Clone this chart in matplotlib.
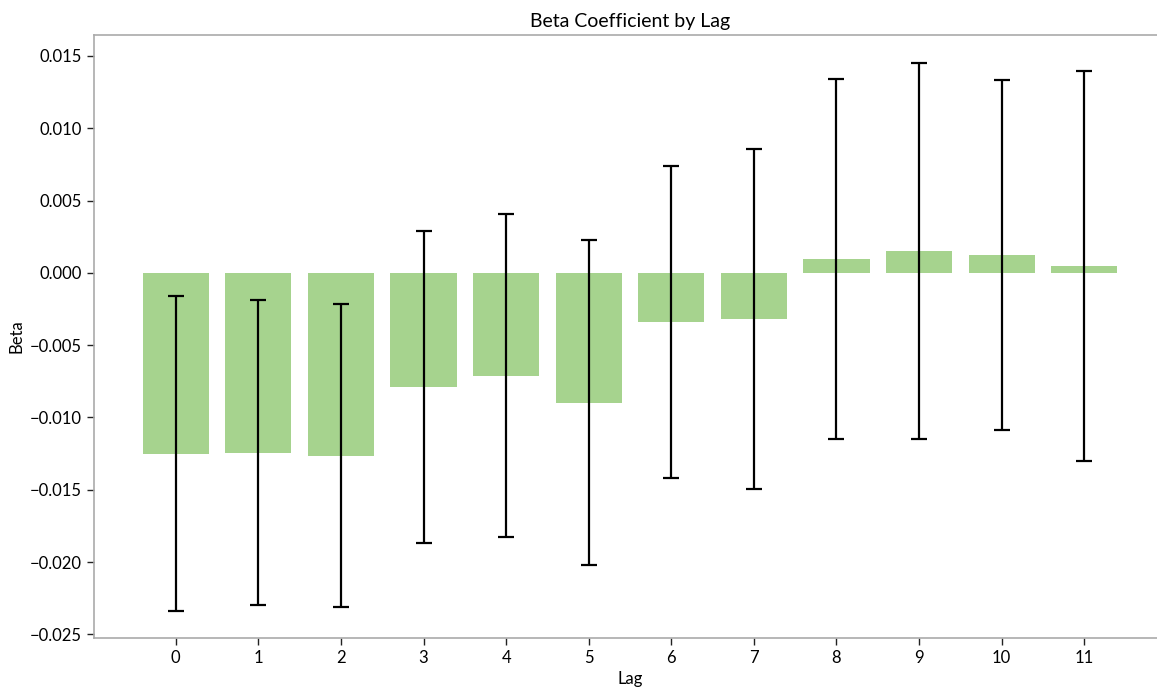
import numpy as np
import matplotlib
matplotlib.use("Agg")
import matplotlib.pyplot as plt

plt.rcParams['font.family'] = ['Lato', 'DejaVu Sans']

# Beta per lag and its error half-width
lags = list(range(12))
beta = [-0.01251, -0.01244, -0.01265, -0.00788, -0.00712, -0.00899,
        -0.00339, -0.00316, 0.00097, 0.00152, 0.00124, 0.00048]
err = [0.01089, 0.01054, 0.01047, 0.01081, 0.01117, 0.01123,
       0.01078, 0.01176, 0.01244, 0.01298, 0.01210, 0.01351]

fig = plt.figure(figsize=(11.57, 6.87), dpi=100)
ax = fig.add_axes([94 / 1157, 1 - 638 / 687, (1166 - 94) / 1157, (638 - 35) / 687])

ax.bar(lags, beta, width=0.8, color='#a6d38e', zorder=1)
ax.errorbar(lags, beta, yerr=err, fmt='none', ecolor='black',
            elinewidth=1.6, capsize=6, capthick=1.6, zorder=2)

ax.set_xlim(-0.99, 11.99)
ax.set_ylim(-0.02525, 0.01645)
ax.set_xticks(lags)
ax.set_yticks([-0.025, -0.020, -0.015, -0.010, -0.005, 0.0, 0.005, 0.010, 0.015])
ax.set_yticklabels(['−0.025', '−0.020', '−0.015', '−0.010', '−0.005',
                    '0.000', '0.005', '0.010', '0.015'])
ax.tick_params(labelsize=12, length=5, width=1, color='#222222')

for side in ['left', 'bottom', 'top']:
    ax.spines[side].set_color('#aaaaaa')
    ax.spines[side].set_linewidth(1.2)
ax.spines['right'].set_visible(False)

ax.set_title('Beta Coefficient by Lag', fontsize=14, pad=6)
ax.set_xlabel('Lag', fontsize=12, labelpad=4)
ax.set_ylabel('Beta', fontsize=12, labelpad=4)

fig.savefig('out.png', dpi=100)
